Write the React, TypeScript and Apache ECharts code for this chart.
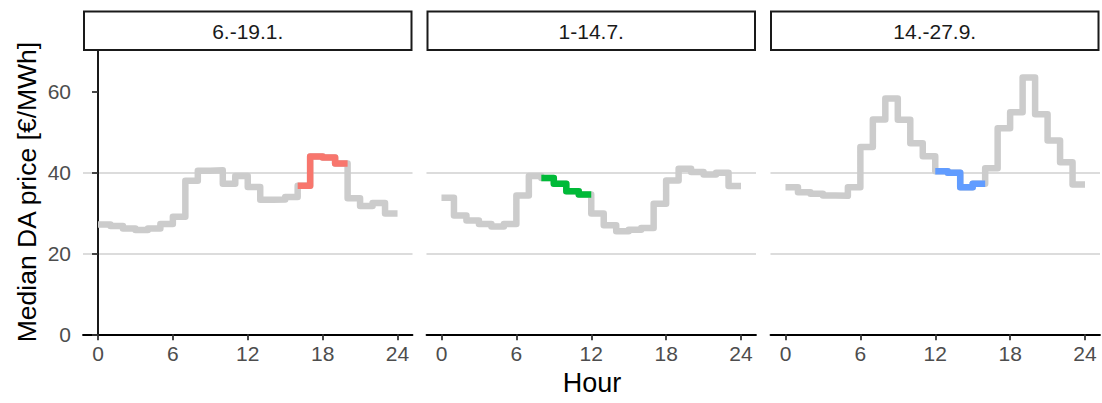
import React, { useEffect, useRef } from "react";
import * as echarts from "echarts";

const panelTitles = ["6.-19.1.", "1-14.7.", "14.-27.9."];
const hours = [0, 1, 2, 3, 4, 5, 6, 7, 8, 9, 10, 11, 12, 13, 14, 15, 16, 17, 18, 19, 20, 21, 22, 23];
const winterPrice = [27.2, 26.8, 26.2, 25.8, 26.2, 27.3, 29.1, 38.0, 40.5, 40.6, 37.3, 39.2, 36.5, 33.3, 33.4, 34.0, 36.8, 44.0, 43.8, 42.3, 33.7, 31.8, 32.5, 29.9];
const summerPrice = [33.8, 29.4, 28.2, 27.3, 26.7, 27.3, 34.4, 39.2, 38.7, 37.3, 35.4, 34.6, 29.9, 27.0, 25.5, 25.9, 26.3, 32.3, 38.1, 41.0, 40.2, 39.6, 40.0, 36.7];
const autumnPrice = [36.4, 35.2, 34.8, 34.4, 34.3, 36.4, 46.4, 53.2, 58.4, 53.1, 47.3, 44.1, 40.4, 40.0, 36.4, 37.3, 41.1, 51.0, 55.0, 63.6, 54.5, 48.0, 42.6, 37.1];
const highlightStart = [16, 8, 12];
const highlightEnd = [20, 12, 16];
const highlightColors = ["#F8766D", "#00BA38", "#619CFF"];
const xTicks = [0, 6, 12, 18, 24];
const yTicks = [0, 20, 40, 60];

const seriesValues = [winterPrice, summerPrice, autumnPrice];

const FONT = "'Liberation Sans', Arial, Helvetica, sans-serif";

export default function App() {
  const ref = useRef<HTMLDivElement>(null);
  useEffect(() => {
    if (!ref.current) return;
    const chart = echarts.init(ref.current, undefined, { renderer: "svg" });
    const lefts = [83, 426.5, 770.5];
    const width = 329.5;
    const top = 50;
    const height = 284.3;

    const grids = lefts.map((l) => ({ left: l, top, width, height, containLabel: false }));
    const xAxes = lefts.map((_, i) => ({
      type: "value",
      gridIndex: i,
      min: -1.2,
      max: 25.2,
      splitLine: { show: false },
      axisLine: { show: true, onZero: false, lineStyle: { color: "#000", width: 1.8 } },
      axisTick: { show: true, length: 6, customValues: xTicks, lineStyle: { color: "#333", width: 1.8 } },
      axisLabel: { show: true, customValues: xTicks, color: "#4d4d4d", fontSize: 21, fontFamily: FONT, margin: 9 },
    }));
    const yAxes = lefts.map((_, i) => ({
      type: "value",
      gridIndex: i,
      min: 0,
      max: 70.4,
      interval: 20,
      splitLine: { show: true, showMinLine: false, showMaxLine: false, lineStyle: { color: "#d0d0d0", width: 1.6 } },
      axisLine: { show: i === 0, lineStyle: { color: "#000", width: 1.8 } },
      axisTick: { show: i === 0, length: 6, customValues: yTicks, lineStyle: { color: "#333", width: 1.8 } },
      axisLabel: { show: i === 0, customValues: yTicks, color: "#4d4d4d", fontSize: 21, fontFamily: FONT, margin: 12 },
    }));

    const series: any[] = [];
    seriesValues.forEach((vals, i) => {
      const full = hours.map((h, k) => [h, vals[k]]).concat([[24, vals[vals.length - 1]]]);
      series.push({
        type: "line",
        xAxisIndex: i,
        yAxisIndex: i,
        step: "end",
        symbol: "none",
        silent: true,
        data: full,
        lineStyle: { color: "#cccccc", width: 6.5, cap: "butt", join: "round" },
        z: 2,
      });
      const s = highlightStart[i];
      const e = highlightEnd[i];
      const part = hours.filter((h) => h >= s && h < e).map((h) => [h, vals[h]]);
      part.push([e, vals[e - 1]]);
      series.push({
        type: "line",
        xAxisIndex: i,
        yAxisIndex: i,
        step: "end",
        symbol: "none",
        silent: true,
        data: part,
        lineStyle: { color: highlightColors[i], width: 6.5, cap: "butt", join: "round" },
        z: 3,
      });
    });

    const stripX = [84, 427.5, 771];
    const graphics: any[] = [];
    stripX.forEach((x, i) => {
      graphics.push({
        type: "rect",
        shape: { x, y: 11.5, width: 327.5, height: 38.5 },
        style: { fill: "#ffffff", stroke: "#1a1a1a", lineWidth: 2 },
        z: 10,
      });
      graphics.push({
        type: "text",
        x: x + 327.5 / 2,
        y: 31,
        style: { text: panelTitles[i], font: `21px ${FONT}`, fill: "#1a1a1a", textAlign: "center", textVerticalAlign: "middle" },
        z: 11,
      });
    });
    graphics.push({
      type: "text",
      x: 592,
      y: 383,
      style: { text: "Hour", font: `27px ${FONT}`, fill: "#000", textAlign: "center", textVerticalAlign: "middle" },
    });
    graphics.push({
      type: "text",
      x: 27,
      y: 192,
      rotation: Math.PI / 2,
      style: { text: "Median DA price [€/MWh]", font: `26.5px ${FONT}`, fill: "#000", textAlign: "center", textVerticalAlign: "middle" },
    });

    chart.setOption({
      animation: false,
      backgroundColor: "#ffffff",
      grid: grids,
      xAxis: xAxes,
      yAxis: yAxes,
      series,
      graphic: graphics,
    });
    return () => chart.dispose();
  }, []);
  return <div ref={ref} style={{ position: "fixed", left: 0, top: 0, width: 1102, height: 403 }} />;
}
